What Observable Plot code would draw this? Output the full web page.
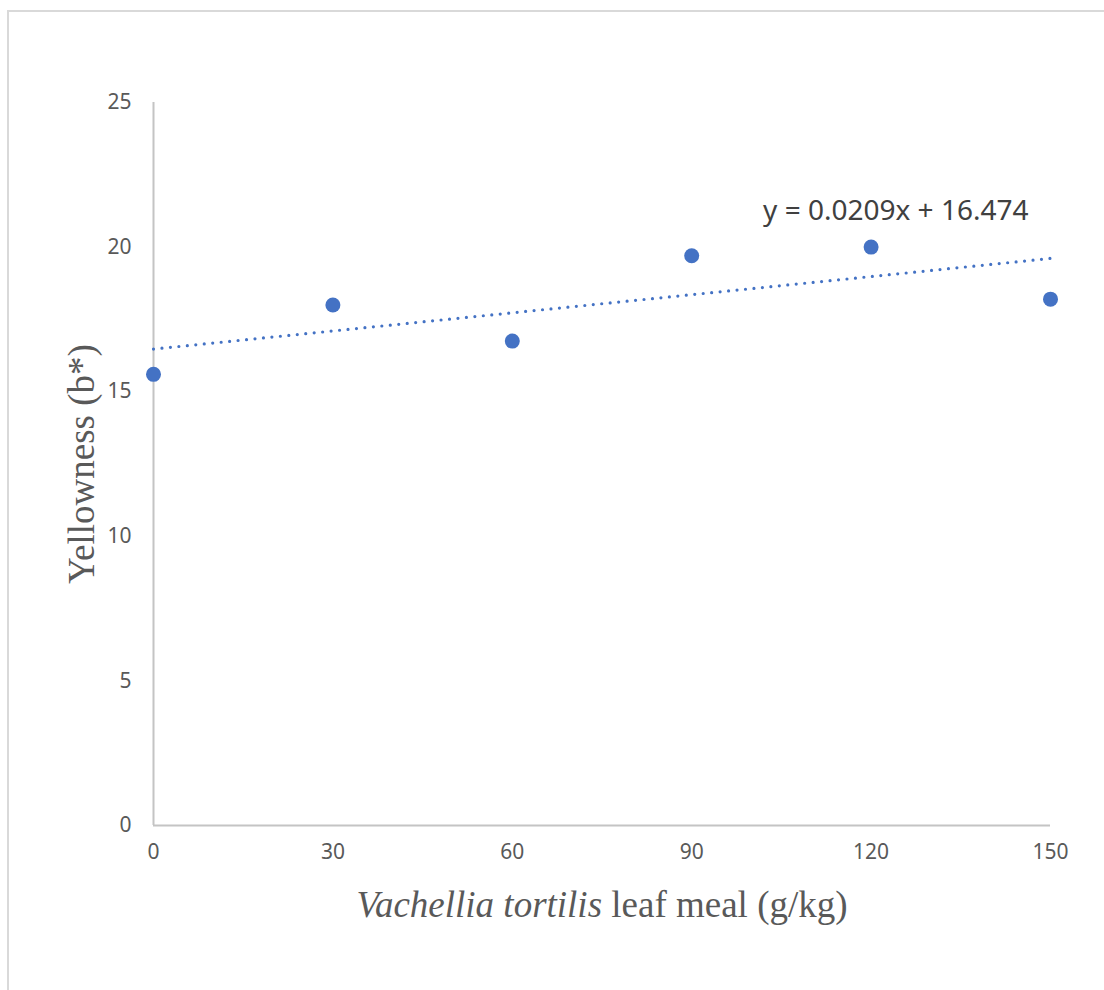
<!DOCTYPE html>
<html>
<head>
<meta charset="utf-8">
<script src="https://cdn.jsdelivr.net/npm/d3@7"></script>
<script src="https://cdn.jsdelivr.net/npm/@observablehq/plot@0.6"></script>
<style>
  html, body { margin: 0; padding: 0; background: #fff; overflow: hidden; width: 1104px; height: 990px; }
  #wrap { position: relative; width: 1104px; height: 990px; }
  #border { position: absolute; left: 7px; top: 10px; width: 1200px; height: 1100px; border: 2px solid #d9d9d9; box-sizing: border-box; pointer-events: none; }
  #chart { position: absolute; left: 0; top: 0; }
</style>
</head>
<body>
<div id="wrap"><div id="border"></div><div id="chart"></div></div>
<script>
// Data
const leafMeal = [0, 30, 60, 90, 120, 150];            // g/kg
const yellowness = [15.6, 18.0, 16.75, 19.7, 20.0, 18.2]; // b*
const xTicks = [0, 30, 60, 90, 120, 150];
const yTicks = [0, 5, 10, 15, 20, 25];
const trendSlope = 0.0209;
const trendIntercept = 16.474;
const equationLabel = "y = 0.0209x + 16.474";
const yTitle = "Yellowness (b*)";
const xTitleItalic = "Vachellia tortilis";
const xTitleRest = " leaf meal (g/kg)";

const points = leafMeal.map((x, i) => ({x, y: yellowness[i]}));
const trendXs = [xTicks[0], xTicks[xTicks.length - 1]];
const trend = trendXs.map(x => ({x, y: trendSlope * x + trendIntercept}));

const sans = "'Noto Sans', 'Open Sans', sans-serif";
const serif = "'Liberation Serif', 'DejaVu Serif', serif";

const chart = Plot.plot({
  width: 1104,
  height: 990,
  marginLeft: 153,
  marginRight: 54,
  marginTop: 102,
  marginBottom: 165,
  style: {background: "transparent", fontFamily: sans, fontSize: "21px"},
  x: {domain: [0, 150], ticks: xTicks},
  y: {domain: [0, 25], ticks: yTicks},
  marks: [
    Plot.axisY(yTicks, {tickSize: 0, tickPadding: 22, fontSize: 21, color: "#595959", label: null}),
    Plot.axisX(xTicks, {tickSize: 0, tickPadding: 19, fontSize: 21, color: "#595959", label: null}),
    Plot.ruleX([0], {stroke: "#c4c4c4", strokeWidth: 2}),
    Plot.ruleY([0], {stroke: "#c4c4c4", strokeWidth: 2}),
    Plot.line(trend, {x: "x", y: "y", stroke: "#4472C4", strokeWidth: 3.2, strokeDasharray: "0 8.5", strokeLinecap: "round"}),
    Plot.dot(points, {x: "x", y: "y", r: 7.5, fill: "#4472C4", stroke: "none"}),
    Plot.text([equationLabel], {frameAnchor: "top-right", dx: -22, dy: 109, textAnchor: "end", fontSize: 28, fill: "#404040", fontFamily: sans, lineAnchor: "middle"}),
    Plot.text([yTitle], {frameAnchor: "left", dx: -71, rotate: -90, textAnchor: "middle", lineAnchor: "middle", fontSize: 37, fill: "#595959", fontFamily: serif}),
    Plot.text([xTitleItalic + xTitleRest], {frameAnchor: "bottom", dy: 80, textAnchor: "middle", lineAnchor: "middle", fontSize: 37, fill: "#595959", fontFamily: serif})
  ]
});
document.getElementById("chart").appendChild(chart);

// Italicise the species name in the x-axis title
d3.select(chart).selectAll("text").filter(function() {
  return this.textContent === xTitleItalic + xTitleRest;
}).each(function() {
  const t = d3.select(this);
  t.text(null);
  t.append("tspan").attr("font-style", "italic").text(xTitleItalic);
  t.append("tspan").text(xTitleRest);
});
</script>
</body>
</html>
